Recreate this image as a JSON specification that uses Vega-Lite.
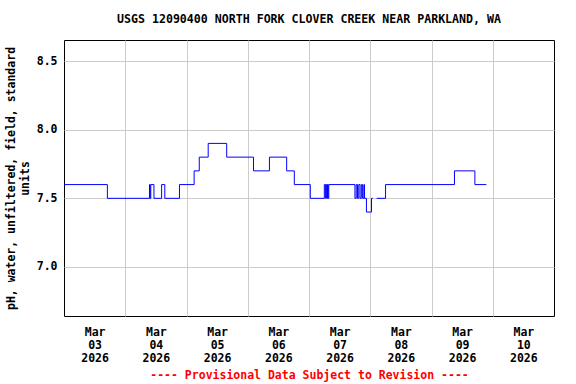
{
  "$schema": "https://vega.github.io/schema/vega-lite/v6.json",
  "width": 490,
  "height": 276,
  "autosize": "none",
  "padding": {"left": 64, "top": 40, "right": 22, "bottom": 68},
  "background": "white",
  "title": {
    "text": "USGS 12090400 NORTH FORK CLOVER CREEK NEAR PARKLAND, WA",
    "font": "DejaVu Sans Mono",
    "fontWeight": "bold",
    "fontSize": 11.6,
    "color": "black",
    "anchor": "middle",
    "frame": "group",
    "offset": 14
  },
  "config": {
    "view": {"stroke": "black", "strokeWidth": 1},
    "axis": {
      "labelFont": "DejaVu Sans Mono",
      "labelFontWeight": "bold",
      "labelFontSize": 11.5,
      "labelColor": "black",
      "titleFont": "DejaVu Sans Mono",
      "titleFontWeight": "bold",
      "titleFontSize": 11.5,
      "titleColor": "black",
      "gridColor": "#cccccc",
      "gridWidth": 1,
      "domain": false,
      "ticks": false
    }
  },
  "data": {
    "values": [
      {"t": "2026-03-03T00:00:00", "v": 7.6},
      {"t": "2026-03-03T17:00:00", "v": 7.5},
      {"t": "2026-03-04T09:30:00", "v": 7.6},
      {"t": "2026-03-04T09:45:00", "v": 7.5},
      {"t": "2026-03-04T10:00:00", "v": 7.6},
      {"t": "2026-03-04T11:15:00", "v": 7.5},
      {"t": "2026-03-04T14:15:00", "v": 7.6},
      {"t": "2026-03-04T15:30:00", "v": 7.5},
      {"t": "2026-03-04T21:15:00", "v": 7.6},
      {"t": "2026-03-05T03:00:00", "v": 7.7},
      {"t": "2026-03-05T05:00:00", "v": 7.8},
      {"t": "2026-03-05T08:30:00", "v": 7.9},
      {"t": "2026-03-05T15:45:00", "v": 7.8},
      {"t": "2026-03-06T02:15:00", "v": 7.7},
      {"t": "2026-03-06T08:30:00", "v": 7.8},
      {"t": "2026-03-06T15:15:00", "v": 7.7},
      {"t": "2026-03-06T18:15:00", "v": 7.6},
      {"t": "2026-03-07T00:30:00", "v": 7.5},
      {"t": "2026-03-07T06:00:00", "v": 7.6},
      {"t": "2026-03-07T06:30:00", "v": 7.5},
      {"t": "2026-03-07T06:45:00", "v": 7.6},
      {"t": "2026-03-07T07:00:00", "v": 7.5},
      {"t": "2026-03-07T07:15:00", "v": 7.6},
      {"t": "2026-03-07T07:30:00", "v": 7.5},
      {"t": "2026-03-07T07:45:00", "v": 7.6},
      {"t": "2026-03-07T18:00:00", "v": 7.5},
      {"t": "2026-03-07T18:30:00", "v": 7.6},
      {"t": "2026-03-07T19:00:00", "v": 7.5},
      {"t": "2026-03-07T19:30:00", "v": 7.6},
      {"t": "2026-03-07T20:00:00", "v": 7.5},
      {"t": "2026-03-07T20:30:00", "v": 7.6},
      {"t": "2026-03-07T21:00:00", "v": 7.5},
      {"t": "2026-03-07T21:30:00", "v": 7.6},
      {"t": "2026-03-07T21:45:00", "v": 7.5},
      {"t": "2026-03-07T22:30:00", "v": 7.4},
      {"t": "2026-03-08T00:30:00", "v": 7.5},
      {"t": "2026-03-08T01:00:00", "v": 7.5},
      {"t": "2026-03-08T01:15:00", "v": null},
      {"t": "2026-03-08T02:30:00", "v": 7.5},
      {"t": "2026-03-08T06:00:00", "v": 7.6},
      {"t": "2026-03-09T09:00:00", "v": 7.7},
      {"t": "2026-03-09T17:00:00", "v": 7.6},
      {"t": "2026-03-09T21:30:00", "v": 7.6}
    ]
  },
  "mark": {
    "type": "line",
    "interpolate": "step-after",
    "color": "#0000ff",
    "strokeWidth": 1,
    "invalid": "break-paths-show-domains",
    "clip": true
  },
  "encoding": {
    "x": {
      "field": "t",
      "type": "temporal",
      "scale": {
        "domain": [
          {"year": 2026, "month": 3, "date": 3},
          {"year": 2026, "month": 3, "date": 11}
        ]
      },
      "axis": {
        "values": [
          {"year": 2026, "month": 3, "date": 3},
          {"year": 2026, "month": 3, "date": 4},
          {"year": 2026, "month": 3, "date": 5},
          {"year": 2026, "month": 3, "date": 6},
          {"year": 2026, "month": 3, "date": 7},
          {"year": 2026, "month": 3, "date": 8},
          {"year": 2026, "month": 3, "date": 9},
          {"year": 2026, "month": 3, "date": 10}
        ],
        "labelExpr": "[timeFormat(datum.value, '%b'), timeFormat(datum.value, '%d'), timeFormat(datum.value, '%Y')]",
        "labelOffset": 30.6,
        "labelAlign": "center",
        "labelBaseline": "top",
        "labelPadding": 10,
        "labelLineHeight": 13,
        "labelOverlap": false,
        "labelFlush": false,
        "labelBound": false,
        "grid": true,
        "gridOpacity": {
          "condition": {"test": "date(datum.value) == 3", "value": 0},
          "value": 1
        },
        "title": "---- Provisional Data Subject to Revision ----",
        "titleColor": "#ff0000",
        "titlePadding": 6
      }
    },
    "y": {
      "field": "v",
      "type": "quantitative",
      "scale": {"domain": [6.643, 8.653], "nice": false, "zero": false},
      "axis": {
        "values": [7.0, 7.5, 8.0, 8.5],
        "format": ".1f",
        "grid": true,
        "labelPadding": 7,
        "title": ["pH, water, unfiltered, field, standard", "units"],
        "titleLineHeight": 13.5,
        "titlePadding": 6
      }
    }
  }
}
